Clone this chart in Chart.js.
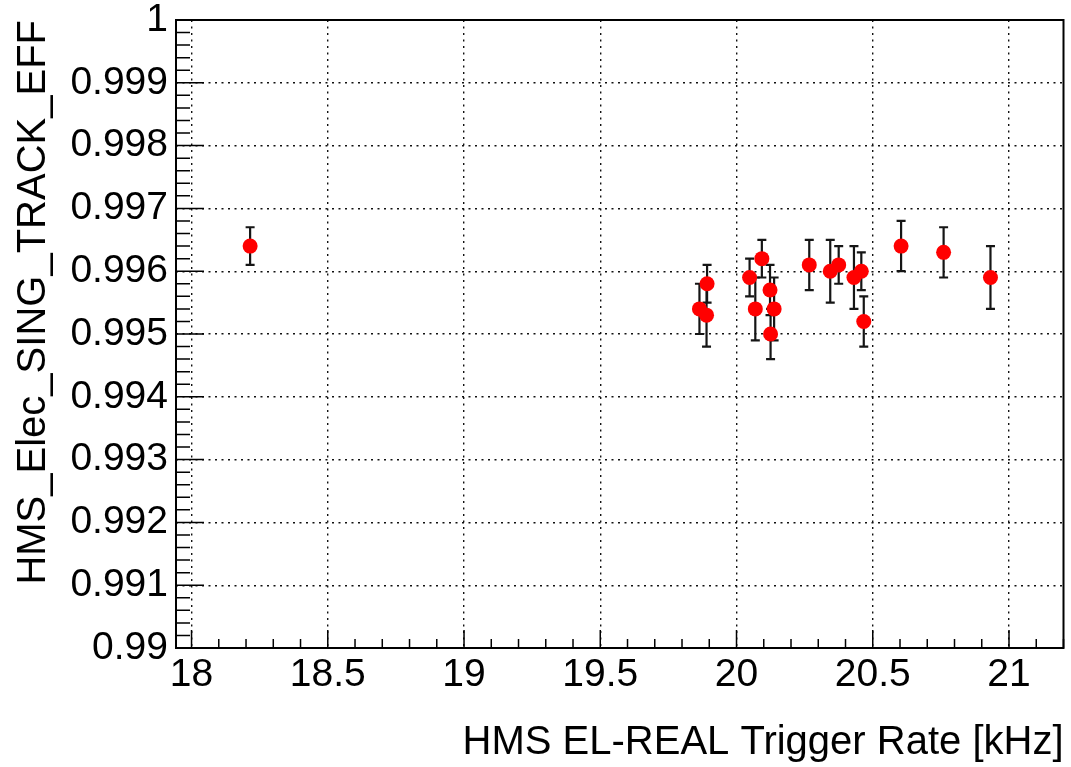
<!DOCTYPE html>
<html>
<head>
<meta charset="utf-8">
<title>HMS_Elec_SING_TRACK_EFF</title>
<script src="https://cdn.jsdelivr.net/npm/chart.js@4/dist/chart.umd.min.js"></script>
<style>
body { margin: 0; background: #fff; }
</style>
</head>
<body>
<canvas id="chart" width="1071" height="767"></canvas>
<script>
// ----------------------------------------------------------------------
//  single track efficiency vs. EL-REAL trigger rate
// ----------------------------------------------------------------------
const rate = [18.215, 19.864, 19.892, 19.890, 20.048, 20.093, 20.069, 20.123, 20.138, 20.125,
              20.267, 20.344, 20.375, 20.431, 20.458, 20.467, 20.604, 20.760, 20.932]
const eff = [0.9964, 0.9954, 0.9958, 0.9953, 0.9959, 0.9962, 0.9954, 0.9957, 0.9954, 0.9950,
             0.9961, 0.9960, 0.9961, 0.9959, 0.9960, 0.9952, 0.9964, 0.9963, 0.9959]
const effErr = [0.0003, 0.0004, 0.0003, 0.0005, 0.0003, 0.0003, 0.0005, 0.0004, 0.0005, 0.0004,
                0.0004, 0.0005, 0.0003, 0.0005, 0.0003, 0.0004, 0.0004, 0.0004, 0.0005]

const xTicks = [18, 18.5, 19, 19.5, 20, 20.5, 21]
const xTickLabels = ["18", "18.5", "19", "19.5", "20", "20.5", "21"]
const yTicks = [0.99, 0.991, 0.992, 0.993, 0.994, 0.995, 0.996, 0.997, 0.998, 0.999, 1]
const yTickLabels = ["0.99", "0.991", "0.992", "0.993", "0.994", "0.995",
                     "0.996", "0.997", "0.998", "0.999", "1"]

const FONT = "'Liberation Sans', Arial, Helvetica, sans-serif"

// ----------------------------------------------------------------------
// error bars under the markers, ROOT style frame and inward ticks on top
const rootStyle = {
    id: 'rootStyle',
    beforeDatasetsDraw (chart)
    {
        const {ctx, scales: {x, y}} = chart
        ctx.save()
        ctx.strokeStyle = '#151515'
        ctx.lineWidth = 2.2
        rate.forEach ((r, i) => {
            const px = x.getPixelForValue(r)
            const top = y.getPixelForValue(eff[i] + effErr[i])
            const bot = y.getPixelForValue(eff[i] - effErr[i])
            ctx.beginPath()
            ctx.moveTo(px, top); ctx.lineTo(px, bot)
            ctx.moveTo(px - 4.5, top); ctx.lineTo(px + 4.5, top)
            ctx.moveTo(px - 4.5, bot); ctx.lineTo(px + 4.5, bot)
            ctx.stroke()
        })
        ctx.restore()
    },
    afterDraw (chart)
    {
        const {ctx, chartArea: a, scales: {x, y}} = chart
        ctx.save()
        ctx.strokeStyle = '#000'
        ctx.lineWidth = 1.5
        ctx.beginPath()
        // y: 5 subdivisions per major step
        const ySub = (yTicks[1] - yTicks[0]) / 5
        for (let k = 0; k <= (yTicks.length - 1) * 5; k++) {
            const py = y.getPixelForValue(yTicks[0] + k * ySub)
            const len = (k % 5 === 0) ? 28 : 14
            ctx.moveTo(a.left, py); ctx.lineTo(a.left + len, py)
        }
        // x: 5 subdivisions per major step, also past the last label
        const xSub = (xTicks[1] - xTicks[0]) / 5
        for (let k = -5; k <= (xTicks.length + 1) * 5; k++) {
            const v = xTicks[0] + k * xSub
            if (v < x.min || v > x.max) continue
            const px = x.getPixelForValue(v)
            const len = (k % 5 === 0) ? 18 : 9
            ctx.moveTo(px, a.bottom); ctx.lineTo(px, a.bottom - len)
        }
        ctx.stroke()
        ctx.lineWidth = 2
        ctx.strokeRect(a.left, a.top, a.right - a.left, a.bottom - a.top)
        ctx.restore()
    }
}

// ----------------------------------------------------------------------
const gridOpts = {
    drawTicks: false,
    color: '#111',
    lineWidth: 1.4
}
const borderOpts = {
    display: false,
    dash: [2, 4.5]
}

const config = {
    type: 'scatter',
    data: {
        datasets: [{
            data: rate.map((r, i) => ({x: r, y: eff[i]})),
            backgroundColor: '#ff0000',
            borderWidth: 0,
            pointRadius: 7.5,
            pointHoverRadius: 7.5
        }]
    },
    options: {
        responsive: false,
        animation: false,
        events: [],
        layout: { padding: {left: 0, right: 3, top: 20, bottom: 0} },
        plugins: { legend: {display: false}, tooltip: {enabled: false} },
        scales: {
            x: {
                type: 'linear',
                min: 17.943,
                max: 21.2,
                grid: gridOpts,
                border: borderOpts,
                afterBuildTicks: s => { s.ticks = xTicks.map(v => ({value: v})) },
                afterFit: s => {
                    s.height = 119
                    s.paddingLeft = 0; s.paddingRight = 0
                },
                ticks: {
                    color: '#000',
                    padding: 4,
                    maxRotation: 0,
                    autoSkip: false,
                    font: {family: FONT, size: 39},
                    callback: (v, i) => xTickLabels[i]
                },
                title: {
                    display: true,
                    text: 'HMS EL-REAL Trigger Rate [kHz]',
                    align: 'end',
                    color: '#000',
                    padding: 0,
                    font: {family: FONT, size: 40}
                }
            },
            y: {
                type: 'linear',
                min: 0.99,
                max: 1,
                grid: gridOpts,
                border: borderOpts,
                afterBuildTicks: s => { s.ticks = yTicks.map(v => ({value: v})) },
                afterFit: s => {
                    s.width = 176
                    s.paddingTop = 0; s.paddingBottom = 0
                },
                ticks: {
                    color: '#000',
                    padding: 8,
                    autoSkip: false,
                    font: {family: FONT, size: 39},
                    callback: (v, i) => yTickLabels[i]
                },
                title: {
                    display: true,
                    text: 'HMS_Elec_SING_TRACK_EFF',
                    align: 'end',
                    color: '#000',
                    padding: {top: 10, bottom: 0},
                    font: {family: FONT, size: 40}
                }
            }
        }
    },
    plugins: [rootStyle]
}

const chart = new Chart(document.getElementById('chart'), config)
</script>
</body>
</html>
